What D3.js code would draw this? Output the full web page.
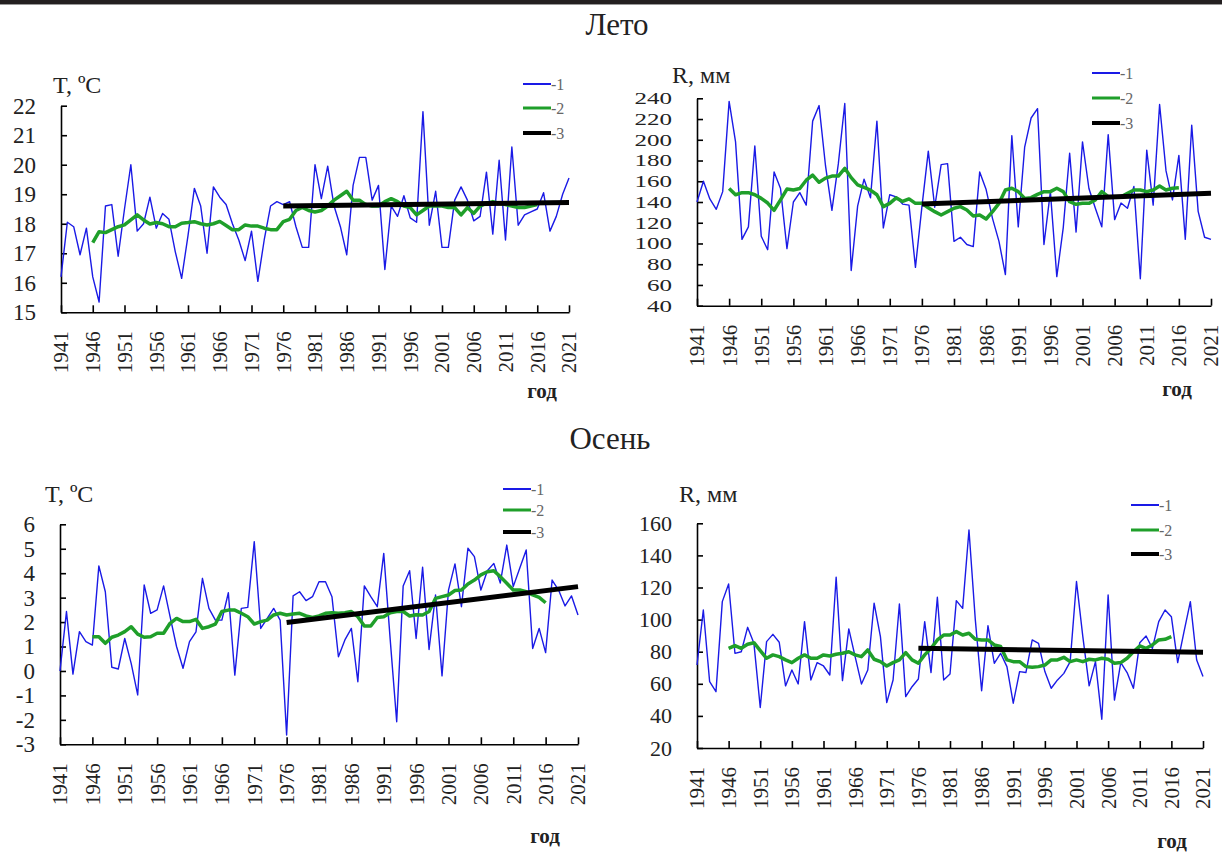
<!DOCTYPE html>
<html>
<head>
<meta charset="utf-8">
<script src="https://cdn.jsdelivr.net/npm/d3@7"></script>
<style>
  body { margin: 0; background: #fff; }
  text { font-family: "Liberation Serif", "Times New Roman", serif; fill: #222; }
</style>
</head>
<body>
<div id="chart"></div>
<script>
const width = 1222, height = 852;

// годы
const years = d3.range(1941, 2022);
const maYears = d3.range(1946, 2017);
const trendYears = [1976, 2021];
const xTickYears = d3.range(1941, 2022, 5);

// Лето, температура
const summerT = [
  16.2, 18.05, 17.9, 16.95, 17.85, 16.2, 15.35, 18.6, 18.65, 16.9,
  18.5, 20.0, 17.75, 18.0, 18.9, 17.85, 18.35, 18.15, 17.05, 16.15,
  17.6, 19.2, 18.6, 17.0, 19.25, 18.9, 18.65, 18.0, 17.45, 16.75,
  17.75, 16.05, 17.45, 18.6, 18.75, 18.65, 18.75, 17.9, 17.2, 17.2,
  20.0, 18.85, 19.95, 18.6, 17.9, 16.95, 19.3, 20.25, 20.25, 18.8,
  19.3, 16.45, 18.6, 18.25, 18.95, 18.2, 18.05, 21.8, 17.95, 19.1,
  17.2, 17.2, 18.8, 19.25, 18.8, 18.1, 18.25, 19.75, 17.65, 20.15,
  17.45, 20.6, 17.95, 18.3, 18.4, 18.5, 19.05, 17.75, 18.25, 19.0,
  19.55
];
const summerTma = [
  17.36, 17.73, 17.7, 17.8, 17.9, 17.96, 18.13, 18.3, 18.13, 17.99,
  18.04, 18.0, 17.9, 17.9, 18.02, 18.04, 18.07, 18.0, 17.96, 18.0,
  18.08, 17.94, 17.8, 17.8, 17.96, 17.92, 17.92, 17.85, 17.8, 17.8,
  18.07, 18.15, 18.45, 18.55, 18.45, 18.4, 18.45, 18.6, 18.8, 18.95,
  19.1, 18.8, 18.8, 18.65, 18.6, 18.6, 18.75, 18.85, 18.75, 18.6,
  18.55, 18.3, 18.45, 18.6, 18.6, 18.6, 18.55, 18.55, 18.3, 18.55,
  18.35, 18.6, 18.7, 18.75, 18.7, 18.65, 18.6, 18.55, 18.55, 18.6,
  18.65
];
const summerTtrend = [18.6, 18.72];

// Лето, осадки
const summerR = [
  140, 160, 143, 133, 150, 237, 198, 104, 116, 194,
  107, 94, 169, 153, 95, 140, 149, 137, 218, 233,
  175, 132, 177, 235, 74, 136, 162, 144, 218, 115,
  147, 145, 138, 137, 77, 135, 189, 135, 176, 177,
  102, 106, 99, 97, 169, 152, 124, 102, 70, 204,
  116, 193, 221, 230, 99, 150, 68, 115, 187, 111,
  198, 153, 134, 116, 205, 123, 139, 134, 155, 66,
  190, 137, 234, 170, 142, 185, 104, 214, 131, 106,
  104
];
const summerRma = [
  153, 147, 149, 149, 147, 143.5, 139, 132, 142, 152.5,
  151.5, 153, 161, 166, 159, 163, 165, 165, 172.5, 163.5,
  156.5, 154, 151.5, 147, 135.5, 138.7, 144, 140.5, 143, 138.7,
  138.7, 134.5, 130.7, 127.5, 130.7, 134, 135.5, 132.3, 126.5, 127.5,
  123.6, 130.7, 138.7, 151.6, 153.2, 150, 143.5, 144.2, 147.4, 150,
  150, 153.2, 150, 140.3, 137.8, 138.7, 138.7, 141.9, 150, 145.1,
  145.1, 145.1, 148.4, 151.6, 151.6, 150, 151.6, 155.4, 151.6, 153.2,
  153.8
];
const summerRtrend = [138, 148.4];

// Осень, температура
const autumnT = [
  0.0, 2.43, -0.13, 1.61, 1.2, 1.06, 4.3, 3.24, 0.15, 0.08,
  1.33, 0.3, -0.98, 3.52, 2.36, 2.5, 3.48, 2.22, 1.0, 0.11,
  1.2, 1.6, 3.79, 2.56, 2.08, 2.08, 3.2, -0.17, 2.56, 2.6,
  5.29, 1.74, 2.15, 2.56, 2.08, -2.62, 3.07, 3.24, 2.88, 3.04,
  3.65, 3.65, 3.04, 0.58, 1.27, 1.74, -0.44, 3.48, 3.04, 2.63,
  4.81, 1.27, -2.08, 3.48, 4.1, 1.33, 4.24, 0.88, 3.11, -0.2,
  3.31, 4.38, 2.63, 5.02, 4.68, 3.31, 4.1, 4.4, 3.6, 5.15,
  3.45, 4.2, 4.95, 0.92, 1.74, 0.75, 3.72, 3.31, 2.66, 3.07,
  2.29
];
const autumnTma = [
  1.4, 1.4, 1.13, 1.38, 1.47, 1.61, 1.81, 1.51, 1.38, 1.4,
  1.54, 1.54, 1.95, 2.15, 2.02, 2.02, 2.11, 1.74, 1.81, 1.92,
  2.43, 2.49, 2.49, 2.36, 2.22, 1.92, 2.02, 2.08, 2.29, 2.36,
  2.29, 2.33, 2.36, 2.25, 2.19, 2.25, 2.36, 2.38, 2.36, 2.38,
  2.43, 2.22, 1.84, 1.84, 2.19, 2.22, 2.38, 2.43, 2.43, 2.25,
  2.3, 2.29, 2.43, 2.97, 3.04, 3.11, 3.29, 3.31, 3.56, 3.72,
  3.93, 4.06, 4.1, 3.86, 3.59, 3.31, 3.31, 3.24, 3.11, 3.01,
  2.79
];
const autumnTtrend = [1.98, 3.45];

// Осень, осадки
const autumnR = [
  71.7, 106, 61.3, 55.1, 111.2, 122.2, 79, 80, 95.2, 85.2,
  45.2, 86.3, 90.8, 85.9, 58.7, 68.6, 59.9, 98.7, 62.4, 73.2,
  71.1, 65.5, 126.4, 62, 94.2, 76.9, 59.9, 68.6, 110.2, 89.4,
  48.3, 62.4, 109.7, 52, 58.2, 63, 98.7, 67, 113.9, 62.4,
  66.1, 111.8, 107, 155.8, 100, 55.7, 96.2, 72.8, 79, 70.7,
  47.9, 67.6, 67, 87.3, 85.2, 67.6, 57.2, 62.4, 66.5, 73.8,
  123.7, 89.4, 58.7, 73.8, 37.9, 115.3, 49.9, 73.2, 67, 57.2,
  85.6, 89.8, 82.1, 98.7, 106, 101.8, 73.2, 92.5, 111.2, 74.8,
  64.5
];
const autumnRma = [
  82.1, 83.8, 82.1, 84.6, 85.6, 80.7, 75.9, 78, 76.9, 74.9,
  73.2, 75.9, 78, 75.9, 75.9, 78, 77.3, 78.4, 79, 80,
  78, 76.9, 81.1, 75.3, 73.8, 71.1, 73.2, 74.9, 79.4, 74.9,
  72.8, 78, 82.1, 87.3, 90.4, 90.4, 92.5, 90.4, 91.5, 87.7,
  87.3, 87.3, 84.2, 83.2, 74.9, 73.8, 73.8, 70.7, 70.3, 70.7,
  71.7, 74.9, 74.9, 76.5, 73.8, 74.9, 73.8, 75.3, 74.9, 75.9,
  75.3, 72.8, 73.2, 75.9, 80, 83.6, 82.1, 84.2, 87.3, 87.7,
  89.4
];
const autumnRtrend = [82.1, 79.6];

const tTicksSummer = d3.range(15, 23);
const rTicksSummer = d3.range(40, 241, 20);
const tTicksAutumn = d3.range(-3, 7);
const rTicksAutumn = d3.range(20, 161, 20);

const legendLabels = ["-1", "-2", "-3"];
const seriesColors = ["#1a1ae6", "#1f9f2a", "#000"];

const svg = d3.select("#chart").append("svg")
  .attr("width", width)
  .attr("height", height);

svg.append("rect").attr("width", width).attr("height", height).attr("fill", "#fff");
svg.append("rect").attr("x", 0).attr("y", 0).attr("width", width).attr("height", 4).attr("fill", "#231f20");
svg.append("rect").attr("x", 0).attr("y", 4).attr("width", width).attr("height", 1).attr("fill", "#999");

svg.append("text").attr("x", 617).attr("y", 35).attr("text-anchor", "middle")
  .style("font-size", "31px").text("Лето");
svg.append("text").attr("x", 610).attr("y", 449).attr("text-anchor", "middle")
  .style("font-size", "31px").text("Осень");

function drawPanel(p) {
  const x = d3.scaleLinear().domain([1941, 2021]).range([p.x0, p.x1]);
  const y = d3.scaleLinear().domain(p.domain).range([p.yBot, p.yTop]);
  const g = svg.append("g");

  // y axis
  const ya = g.append("g")
    .attr("transform", `translate(${p.x0},0)`)
    .call(d3.axisLeft(y).tickValues(p.ticks).tickSize(-6).tickSizeOuter(0).tickPadding(25)
      .tickFormat(d => String(d)));
  ya.attr("font-family", null);
  ya.selectAll("text").style("font-size", p.yFont + "px");
  if (p.yStretch) {
    ya.selectAll("text")
      .attr("textLength", d => String(d).length * p.yStretch)
      .attr("lengthAdjust", "spacingAndGlyphs");
  }
  ya.selectAll("path,line").attr("stroke", "#000").attr("stroke-width", 1.6);

  // x axis
  const xa = g.append("g")
    .attr("transform", `translate(0,${p.yBot})`)
    .call(d3.axisBottom(x).tickValues(xTickYears).tickSize(-7).tickSizeOuter(0).tickFormat(d => String(d)));
  xa.attr("font-family", null);
  xa.selectAll("path,line").attr("stroke", "#000").attr("stroke-width", 1.6);
  xa.selectAll("text")
    .attr("transform", "rotate(-90)")
    .attr("text-anchor", "end")
    .attr("x", -19)
    .attr("y", 0)
    .attr("dy", "0.33em")
    .style("font-size", "21px");

  // series
  const line = d3.line().x(d => x(d[0])).y(d => y(d[1]));
  g.append("path")
    .datum(years.map((yr, i) => [yr, p.blue[i]]))
    .attr("d", line).attr("fill", "none")
    .attr("stroke", seriesColors[0]).attr("stroke-width", 1.4).attr("stroke-linejoin", "round");
  g.append("path")
    .datum(maYears.map((yr, i) => [yr, p.green[i]]))
    .attr("d", line).attr("fill", "none")
    .attr("stroke", seriesColors[1]).attr("stroke-width", 3.5).attr("stroke-linejoin", "round");
  g.append("path")
    .datum(trendYears.map((yr, i) => [yr, p.trend[i]]))
    .attr("d", line).attr("fill", "none")
    .attr("stroke", seriesColors[2]).attr("stroke-width", 5);

  // axis titles
  g.append("text").attr("x", p.titleX).attr("y", p.titleY)
    .style("font-size", "24px").text(p.title);
  g.append("text").attr("x", p.godX).attr("y", p.godY).attr("text-anchor", "middle")
    .style("font-size", "21px").style("font-weight", "bold").text("год");

  // legend
  const widths = [2, 3, 4];
  legendLabels.forEach((lab, i) => {
    const ly = p.legY[i];
    g.append("line").attr("x1", p.legX).attr("x2", p.legX + 28)
      .attr("y1", ly).attr("y2", ly)
      .attr("stroke", seriesColors[i]).attr("stroke-width", widths[i]);
    g.append("text").attr("x", p.legX + 28).attr("y", ly).attr("dy", "0.35em")
      .style("font-size", "16px").style("fill", "#666").text(lab);
  });
}

drawPanel({
  x0: 61, x1: 569, yTop: 105.7, yBot: 312.3, domain: [15, 22], ticks: tTicksSummer, yFont: 23,
  blue: summerT, green: summerTma, trend: summerTtrend,
  title: "T, ºC", titleX: 53, titleY: 93, godX: 542, godY: 398,
  legX: 523, legY: [84, 108, 133]
});
drawPanel({
  x0: 697, x1: 1211, yTop: 98.3, yBot: 305.7, domain: [40, 240], ticks: rTicksSummer, yFont: 17, yStretch: 12.5,
  blue: summerR, green: summerRma, trend: summerRtrend,
  title: "R, мм", titleX: 672, titleY: 83, godX: 1177, godY: 396,
  legX: 1092, legY: [73, 98, 123]
});
drawPanel({
  x0: 60, x1: 578, yTop: 524.3, yBot: 744.3, domain: [-3, 6], ticks: tTicksAutumn, yFont: 23,
  blue: autumnT, green: autumnTma, trend: autumnTtrend,
  title: "T, ºC", titleX: 45, titleY: 502, godX: 545, godY: 843,
  legX: 503, legY: [489, 510, 532]
});
drawPanel({
  x0: 697, x1: 1203, yTop: 523.3, yBot: 748, domain: [20, 160], ticks: rTicksAutumn, yFont: 22,
  blue: autumnR, green: autumnRma, trend: autumnRtrend,
  title: "R, мм", titleX: 679, titleY: 502, godX: 1172, godY: 848,
  legX: 1131, legY: [505, 530, 554]
});
</script>
</body>
</html>
